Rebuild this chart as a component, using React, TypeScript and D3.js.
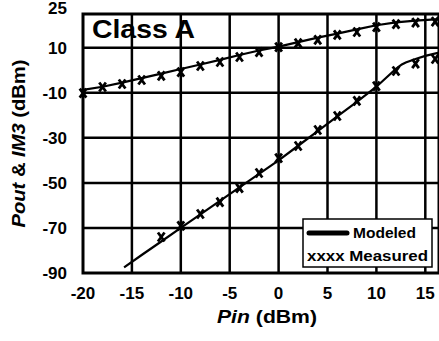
import { useMemo } from "react";
import * as d3 from "d3";

// Pout model / measured
const poutModelPin = [-20, -18, -16, -14, -12, -10, -8, -6, -4, -2, 0, 2, 4, 6, 8, 10, 12, 14, 16.4];
const poutModel = [-8.7, -7.3, -5.5, -3.5, -1.5, 0.6, 2.6, 4.6, 6.8, 8.8, 10.5, 12.5, 14.5, 16.3, 18.2, 20, 21.3, 22.1, 22.7];
const poutMeasPin = [-20, -18, -16, -14, -12, -10, -8, -6, -4, -2, 0, 2, 4, 6, 8, 10, 12, 14, 16];
const poutMeas = [-10.1, -7.4, -6.1, -4.3, -2.5, -0.8, 1.9, 3.7, 5.9, 8.1, 10.3, 12.1, 13.5, 15.7, 17, 19.2, 20.5, 21.2, 21.6];

// IM3 model / measured
const im3ModelPin = [-15.8, -14, -12, -10, -8, -6, -4, -2, 0, 2, 4, 6, 8, 10, 11, 12, 12.6, 13, 14, 15, 16.4];
const im3Model = [-87.5, -82, -76, -70, -64, -58, -52, -46, -40, -33.5, -27, -20.5, -14, -7.3, -3.3, 0.6, 2.6, 3.5, 5, 6.4, 7.9];
const im3MeasPin = [-12, -10, -8, -6, -4, -2, 0, 2, 4, 6, 8, 10, 12, 14, 16];
const im3Meas = [-74, -69.1, -63.8, -58.5, -52.3, -45.6, -39, -33.6, -26.5, -20.3, -13.6, -7, -0.3, 3, 5];

const xTicks = [-20, -15, -10, -5, 0, 5, 10, 15];
const yTicks = [25, 10, -10, -30, -50, -70, -90];

const W = 439;
const H = 341;
const FONT = "'Liberation Sans', Arial, sans-serif";

export default function App() {
    const x = useMemo(() => d3.scaleLinear().domain([-20, 16.4]).range([83, 439]), []);
    const y = useMemo(() => d3.scaleLinear().domain([-90, 25]).range([273, 14]), []);

    const line = d3.line<[number, number]>().x((d) => x(d[0])).y((d) => y(d[1]));
    const poutPath = line(poutModelPin.map((p, i) => [p, poutModel[i]]))!;
    const im3Path = line(im3ModelPin.map((p, i) => [p, im3Model[i]]))!;

    const marks = [
        ...poutMeasPin.map((p, i) => [p, poutMeas[i]]),
        ...im3MeasPin.map((p, i) => [p, im3Meas[i]]),
    ];

    const [x0, x1] = x.range();
    const [y0, y1] = y.range();

    return (
        <svg width={W} height={H} style={{ position: "absolute", left: 0, top: 0, background: "#fff" }}>
            {/* grid */}
            {xTicks.slice(1).map((t) => (
                <line key={"gx" + t} x1={x(t)} x2={x(t)} y1={y1} y2={y0} stroke="#000" strokeWidth={2.5} />
            ))}
            {yTicks.slice(1, -1).map((t) => (
                <line key={"gy" + t} x1={x0} x2={x1} y1={y(t)} y2={y(t)} stroke="#000" strokeWidth={2.5} />
            ))}
            <rect x={x0} y={y1} width={x1 - x0} height={y0 - y1} fill="none" stroke="#000" strokeWidth={3} />

            {/* curves */}
            <path d={poutPath} fill="none" stroke="#000" strokeWidth={2.2} />
            <path d={im3Path} fill="none" stroke="#000" strokeWidth={2.2} />
            {marks.map(([p, v], i) => {
                const cx = x(p);
                const cy = y(v);
                return (
                    <path
                        key={"m" + i}
                        d={`M${cx - 3.3},${cy - 4.5}L${cx + 3.3},${cy + 4.5}M${cx + 3.3},${cy - 4.5}L${cx - 3.3},${cy + 4.5}`}
                        stroke="#000"
                        strokeWidth={2.8}
                        fill="none"
                    />
                );
            })}

            {/* title */}
            <text x={92} y={38} fontFamily={FONT} fontWeight="bold" fontSize={25} textLength={103} lengthAdjust="spacingAndGlyphs">
                Class A
            </text>

            {/* tick labels */}
            {yTicks.map((t, i) => (
                <text
                    key={"yl" + t}
                    x={67}
                    y={i === 0 ? 14 : y(t) + 6}
                    textAnchor="end"
                    fontFamily={FONT}
                    fontWeight="bold"
                    fontSize={17}
                >
                    {t}
                </text>
            ))}
            {xTicks.map((t) => (
                <text
                    key={"xl" + t}
                    x={x(t)}
                    y={299}
                    textAnchor="middle"
                    fontFamily={FONT}
                    fontWeight="bold"
                    fontSize={17}
                >
                    {t}
                </text>
            ))}

            {/* axis titles */}
            <text x={267} y={323} textAnchor="middle" fontFamily={FONT} fontWeight="bold" fontSize={18} textLength={100} lengthAdjust="spacingAndGlyphs">
                <tspan fontStyle="italic">Pin</tspan> (dBm)
            </text>
            <text
                transform={`translate(25,${(y0 + y1) / 2}) rotate(-90)`}
                textAnchor="middle"
                fontFamily={FONT}
                fontWeight="bold"
                fontSize={18}
                textLength={168}
                lengthAdjust="spacingAndGlyphs"
            >
                <tspan fontStyle="italic">Pout</tspan> &amp; <tspan fontStyle="italic">IM3</tspan> (dBm)
            </text>

            {/* legend */}
            <rect x={303} y={219} width={129} height={48} fill="#fff" stroke="#000" strokeWidth={1.5} />
            <line x1={309} x2={347} y1={233} y2={233} stroke="#000" strokeWidth={5} strokeLinecap="round" />
            <text x={353} y={238} fontFamily={FONT} fontWeight="bold" fontSize={14} textLength={63} lengthAdjust="spacingAndGlyphs">
                Modeled
            </text>
            <text x={307} y={261} fontFamily={FONT} fontWeight="bold" fontSize={14} textLength={121} lengthAdjust="spacingAndGlyphs">
                xxxx Measured
            </text>
        </svg>
    );
}
